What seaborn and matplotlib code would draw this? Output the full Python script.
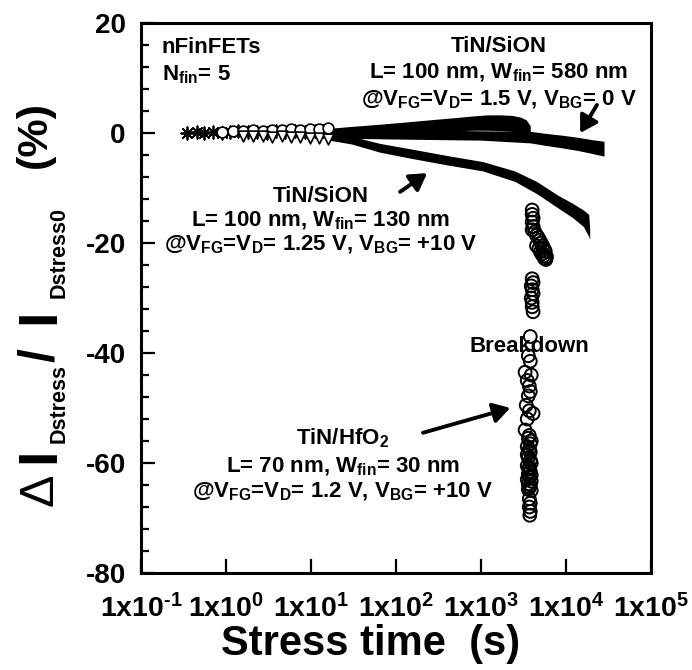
import numpy as np
import pandas as pd
import seaborn as sns
import matplotlib
matplotlib.use("Agg")
import matplotlib.pyplot as plt
from matplotlib.ticker import MultipleLocator, LogLocator, FuncFormatter, NullFormatter

# early (sparse) markers, stress time in s, change in %
t_sion580_early = [0.35, 0.45, 0.55, 0.7, 0.9, 1.1, 1.4, 1.8, 2.3, 3.0, 3.9, 5.0, 6.5, 8.5, 11, 14]
y_sion580_early = [0.0, 0.1, 0.0, 0.2, 0.0, 0.1, 0.3, 0.1, 0.2, 0.0, 0.3, 0.2, 0.4, 0.2, 0.3, 0.4]
t_hfo2_early = [0.9, 1.2, 1.6, 2.1, 2.7, 3.5, 4.5, 5.8, 7.5, 9.7, 12.5, 16]
y_hfo2_early = [0.2, 0.4, 0.3, 0.5, 0.4, 0.6, 0.5, 0.7, 0.6, 0.8, 0.7, 0.9]
t_sion130_early = [1.6, 2.1, 2.7, 3.5, 4.5, 5.8, 7.5, 9.7, 12.5, 16]
y_sion130_early = [-0.5, -0.6, -0.5, -0.7, -0.6, -0.8, -0.7, -0.9, -0.9, -1.0]

# dense parts of the curves (overlapping markers -> solid band)
t_hfo2_band = [15, 30, 65, 130, 250, 500, 800, 1200, 1700, 2300, 2900, 3400, 3800]
hfo2_top = [0.8, 1.2, 1.6, 2.0, 2.4, 2.8, 3.1, 3.3, 3.3, 3.2, 2.9, 2.4, 1.3]
hfo2_bot = [-0.3, -0.2, 0.0, 0.2, 0.3, 0.4, 0.5, 0.5, 0.4, 0.3, 0.2, 0.0, -0.4]

t_sion580_band = [15, 100, 1000, 3800, 6000, 9000, 14000, 20000, 28000]
sion580_top = [0.5, 0.6, 0.4, 0.3, -0.1, -0.4, -0.8, -1.2, -1.5]
sion580_bot = [-0.9, -1.1, -1.3, -1.8, -2.3, -2.7, -3.2, -3.7, -4.2]

t_sion130_band = [15, 30, 65, 150, 400, 1050, 2500, 4500, 8000, 12000, 16000, 18500, 19000]
sion130_top = [0.2, -0.6, -1.9, -2.9, -4.1, -5.2, -6.9, -8.8, -11.3, -12.8, -14.0, -14.8, -17.5]
sion130_bot = [-1.2, -2.0, -3.5, -4.6, -5.8, -6.9, -8.8, -11.0, -13.6, -15.4, -17.0, -18.8, -19.3]

# HfO2 breakdown points
t_breakdown = [4000, 4000, 4100, 4000, 4100, 4000, 4300, 4500, 4700, 4900, 5100, 5300,
               5500, 5700, 5900, 5600, 5200, 4800, 4500, 5000, 5400, 5800,
               4000, 4100, 3900, 4000, 4100, 3900, 4000, 4000, 4100,
               3800, 3600, 3800, 3300, 3900, 3500, 3700, 3800, 3600,
               3400, 3700, 4100, 3500, 3300, 3700, 3900, 3500, 3800, 3600,
               3900, 3500, 3700, 3800, 3600, 3700, 3500, 3900, 3600, 3800,
               3700, 3900, 3600, 3800, 3700, 3500, 3800, 3700, 3900, 3600,
               3700, 3800, 3700, 3800, 3750]
y_breakdown = [-14, -14.8, -15.5, -16.2, -17, -17.6, -18, -18.6, -19, -19.5, -20, -20.5,
               -21, -21.5, -22.5, -22.8, -22, -21, -20.5, -21.6, -22.4, -23,
               -26.5, -27.2, -27.8, -28.5, -29.2, -30, -30.8, -31.6, -32.5,
               -37, -40.5, -41.5, -43.5, -44, -45, -46, -47, -47.8,
               -49.5, -50.5, -51, -52, -54, -55, -56, -57, -58, -59,
               -60, -60.5, -61, -61.5, -62, -62.5, -63, -63.3, -63.8, -64,
               -64.5, -65, -55.5, -56.5, -57.5, -58.5, -59.5, -60.8, -62.2, -64.8,
               -66.5, -67.3, -68, -68.8, -69.5]

x_ticks = [1e-1, 1e0, 1e1, 1e2, 1e3, 1e4, 1e5]

sns.set_style("ticks")
plt.rcParams["font.family"] = ["Liberation Sans", "DejaVu Sans"]
plt.rcParams["font.weight"] = "bold"
plt.rcParams["text.color"] = "black"
plt.rcParams["axes.labelcolor"] = "black"
plt.rcParams["xtick.color"] = "black"
plt.rcParams["ytick.color"] = "black"
plt.rcParams["axes.unicode_minus"] = False
plt.rcParams["mathtext.fontset"] = "custom"
plt.rcParams["mathtext.rm"] = "Liberation Sans:bold"
plt.rcParams["mathtext.it"] = "Liberation Sans:bold"
plt.rcParams["mathtext.bf"] = "Liberation Sans:bold"
plt.rcParams["mathtext.default"] = "rm"

W, H = 692, 670
fig = plt.figure(figsize=(W / 100, H / 100), dpi=100)
ax = fig.add_axes([141 / W, 1 - 573 / H, 510 / W, 550 / H])

# solid bands
ax.fill_between(t_sion580_band, sion580_bot, sion580_top, color="black", lw=0, zorder=3)
ax.fill_between(t_hfo2_band, hfo2_bot, hfo2_top, color="black", lw=0, zorder=3)
ax.fill_between(t_sion130_band, sion130_bot, sion130_top, color="black", lw=0, zorder=3)

# early markers
sns.scatterplot(x=t_sion580_early, y=y_sion580_early, marker=(8, 2, 0), s=80,
                color="black", linewidth=1.3, ax=ax, zorder=4)
sns.scatterplot(x=t_hfo2_early, y=y_hfo2_early, marker="o", s=60, facecolor="white",
                edgecolor="black", linewidth=1.2, ax=ax, zorder=4)
sns.scatterplot(x=t_sion130_early, y=y_sion130_early, marker="v", s=60, facecolor="white",
                edgecolor="black", linewidth=1.2, ax=ax, zorder=4)

# breakdown column
sns.scatterplot(x=t_breakdown, y=y_breakdown, marker="o", s=85, facecolor="none",
                edgecolor="black", linewidth=1.4, ax=ax, zorder=4)

ax.set_xscale("log")
ax.set_xlim(1e-1, 1e5)
ax.set_ylim(-80, 20)

ax.set_xticks(x_ticks)
ax.xaxis.set_major_formatter(FuncFormatter(lambda v, _: r"1x10$^{\text{%d}}$" % round(np.log10(v))))
ax.xaxis.set_minor_locator(LogLocator(base=10, subs=np.arange(2, 10)))
ax.xaxis.set_minor_formatter(NullFormatter())
ax.yaxis.set_major_locator(MultipleLocator(20))
ax.yaxis.set_minor_locator(MultipleLocator(4))

ax.tick_params(axis="both", which="both", direction="in", top=False, right=False,
               width=1.6, color="black", labelcolor="black")
ax.tick_params(axis="both", which="major", length=10)
ax.tick_params(axis="y", which="major", labelsize=20, pad=11)
ax.tick_params(axis="x", which="major", labelsize=20.5, pad=15)
ax.tick_params(axis="both", which="minor", length=5.5)
for lbl in ax.get_xticklabels() + ax.get_yticklabels():
    lbl.set_fontweight("bold")
for sp in ax.spines.values():
    sp.set_linewidth(2.2)
    sp.set_color("black")

ax.set_xlabel("Stress time  (s)", fontsize=30, fontweight="bold", color="black")
ax.xaxis.set_label_coords(0.451, -0.093)


# y label built from pieces: big symbols, small subscripts (as in the reference)
def vtext(px, py, s, size, weight="bold"):
    fig.text(px / W, 1 - py / H, s, rotation=90, rotation_mode="anchor",
             ha="left", va="baseline", fontsize=size, fontweight=weight, color="black")


vtext(53, 506, "Δ", 35, weight="normal")
vtext(54, 463, "I", 40)
vtext(65, 443, "Dstress", 15.5)
vtext(53, 362, "/", 36)
vtext(54, 324, "I", 40)
vtext(65, 298, "Dstress0", 15.5)
vtext(46, 168, "(%)", 31)

tk = dict(transform=ax.transAxes, fontsize=16, fontweight="bold", va="baseline", color="black")
ax.text(0.041, 0.945, "nFinFETs", ha="left", **tk)
ax.text(0.041, 0.896, r"N$_{fin}$= 5", ha="left", **tk)

ax.text(0.702, 0.947, "TiN/SiON", ha="center", **tk)
ax.text(0.702, 0.900, r"L= 100 nm, W$_{fin}$= 580 nm", ha="center", **tk)
ax.text(0.702, 0.851, r"@V$_{FG}$=V$_{D}$= 1.5 V, V$_{BG}$= 0 V", ha="center", **tk)

ax.text(0.353, 0.675, "TiN/SiON", ha="center", **tk)
ax.text(0.353, 0.631, r"L= 100 nm, W$_{fin}$= 130 nm", ha="center", **tk)
ax.text(0.353, 0.587, r"@V$_{FG}$=V$_{D}$= 1.25 V, V$_{BG}$= +10 V", ha="center", **tk)

ax.text(0.396, 0.233, r"TiN/HfO$_{2}$", ha="center", **tk)
ax.text(0.396, 0.182, r"L= 70 nm, W$_{fin}$= 30 nm", ha="center", **tk)
ax.text(0.396, 0.138, r"@V$_{FG}$=V$_{D}$= 1.2 V, V$_{BG}$= +10 V", ha="center", **tk)

ax.text(0.761, 0.411, "Breakdown", ha="center", va="center", transform=ax.transAxes,
        fontsize=16, fontweight="bold", color="black", zorder=5)

arrow = dict(arrowstyle="-|>,head_length=0.5,head_width=0.3", color="black", lw=2.8,
             mutation_scale=20, shrinkA=0, shrinkB=0)
ax.annotate("", xy=(0.861, 0.800), xytext=(0.894, 0.851), xycoords="axes fraction",
            textcoords="axes fraction", arrowprops=arrow)
ax.annotate("", xy=(0.561, 0.727), xytext=(0.508, 0.693), xycoords="axes fraction",
            textcoords="axes fraction", arrowprops=arrow)
ax.annotate("", xy=(0.724, 0.300), xytext=(0.553, 0.255), xycoords="axes fraction",
            textcoords="axes fraction", arrowprops=arrow)

fig.savefig("out.png", dpi=100)
plt.close(fig)
